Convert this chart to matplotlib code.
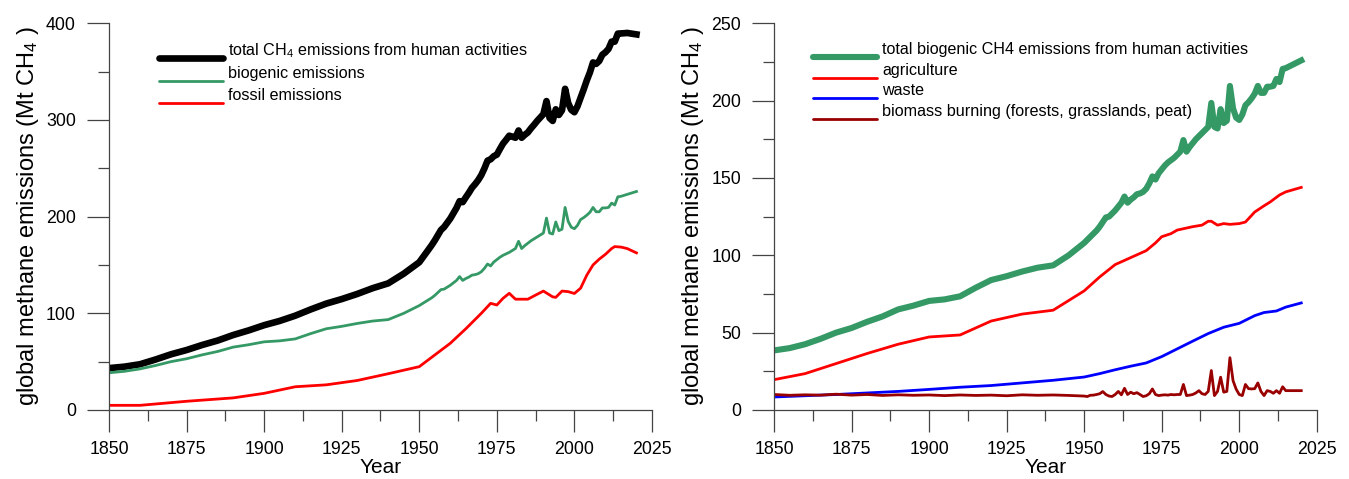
import matplotlib
matplotlib.use("Agg")
import matplotlib.pyplot as plt
from matplotlib.ticker import MultipleLocator

plt.rcParams['font.family'] = ['Liberation Sans', 'DejaVu Sans']
plt.rcParams['mathtext.default'] = 'regular'

# yearly resolution from 1950, 5-year steps before
years = list(range(1850, 1950, 5)) + list(range(1950, 2021))

total_ch4 = [43.3, 44.8, 47.3, 52.2, 57.6, 62, 67.2, 71.8, 77.5, 82.3,
             87.7, 92.1, 97.5, 104, 110, 114.7, 120, 126, 131, 141,
             152.8, 157.2, 161.6, 166, 170.5, 175.4, 180.8, 186.2, 189.2, 193.6,
             198, 203.5, 209, 216, 215, 220, 224.7, 229.9, 233.6, 237.8,
             243, 249.9, 257.9, 259.3, 262.5, 264.1, 270, 275.5, 279.5, 283.7,
             282.7, 281.6, 289.1, 281.6, 284.6, 287.1, 291.3, 295, 299, 302.5,
             306, 319.5, 302, 299, 311, 305.2, 310, 332.2, 317.4, 310.4,
             308, 314.2, 323, 331.7, 341, 349.2, 359.5, 358, 361, 367.5,
             370, 373.5, 381, 381, 389.3, 389.5, 389.7, 390, 389.5, 389,
             388.5]

biogenic = [38.5, 40, 42.5, 46, 50, 53, 57, 60.5, 65, 67.5,
            70.5, 71.5, 73.5, 79, 84, 86.5, 89.5, 92, 93.5, 100,
            108, 110, 112, 114, 116, 118.5, 121.5, 124.5, 125, 127,
            129, 131.5, 134, 138, 134, 136, 137.5, 139.5, 140, 141,
            143, 146.5, 151, 149, 153, 155.5, 158, 160, 161.5, 163,
            165, 167, 174.5, 167, 170, 172.5, 175, 177, 179, 181,
            183, 198.5, 183, 182, 194.5, 185.5, 187, 209.5, 195, 189,
            187.5, 191, 197, 199, 201.5, 204.5, 209.5, 205, 205, 209,
            209, 209.5, 214, 212, 220.5, 221, 222, 223, 224, 225,
            226]

biomass_burning = [10, 9.5, 9.8, 9.6, 10.2, 9.6, 10, 9.4, 9.8, 9.5,
                   9.7, 9.3, 9.7, 9.4, 9.6, 9.2, 9.8, 9.5, 9.7, 9.4,
                   9, 8.7, 9.5, 9.6, 10, 10.5, 11.9, 10, 9, 8.7,
                   10, 12, 9.8, 14, 10, 11.5, 10.5, 11.2, 10, 8.7,
                   9.2, 10.5, 13.6, 10, 9.3, 9.6, 9.8, 9.6, 10, 9.8,
                   10, 10, 16.5, 9.3, 9.6, 10, 11, 12.5, 10.5, 10,
                   12, 25.5, 9.3, 12, 21.2, 11.5, 12, 33.8, 19, 13.5,
                   10, 9.3, 16.5, 13.8, 13.6, 13.8, 17.5, 12, 9.3, 12.5,
                   12, 10.8, 12.5, 10.8, 15, 12.5, 12.5, 12.5, 12.5, 12.5,
                   12.5]

fossil_years = [1850, 1860, 1875, 1890, 1900, 1910, 1920, 1930, 1940, 1950,
                1960, 1965, 1970, 1973, 1975, 1977, 1979, 1981, 1985, 1987,
                1990, 1993, 1994, 1996, 1998, 2000, 2002, 2004, 2006, 2008,
                2010, 2012, 2013, 2015, 2017, 2020]
fossil = [4.8, 4.8, 9, 12.5, 17.2, 24, 26, 30.5, 37.5, 44.8,
          69, 84, 100, 110.3, 108.6, 115.5, 120.7, 114.6, 114.6, 118,
          123, 117, 116.5, 123, 122.4, 120.5, 126, 139.5, 150, 156,
          161, 167, 169, 168.5, 167, 162.5]

agri_years = [1850, 1860, 1870, 1880, 1890, 1900, 1910, 1920, 1930, 1940,
              1950, 1955, 1960, 1965, 1970, 1973, 1975, 1978, 1980, 1985,
              1988, 1990, 1991, 1993, 1995, 1997, 2000, 2002, 2005, 2008,
              2010, 2013, 2015, 2020]
agriculture = [19.6, 23.5, 30, 36.5, 42.5, 47.2, 48.5, 57.5, 62, 64.5,
               77, 86, 94, 98.5, 103, 108, 112, 114, 116.3, 118.5,
               119.5, 122, 122, 119.5, 120.5, 120, 120.5, 121.5, 128, 132,
               134.5, 139, 141, 143.9]

waste_years = [1850, 1860, 1870, 1880, 1890, 1900, 1910, 1920, 1930, 1940,
               1950, 1955, 1960, 1965, 1970, 1975, 1980, 1985, 1990, 1995,
               2000, 2005, 2008, 2010, 2012, 2015, 2020]
waste = [8.4, 9.2, 10, 11, 12, 13.3, 14.7, 15.8, 17.5, 19.2,
         21.3, 23.5, 26, 28.3, 30.4, 34.5, 39.5, 44.5, 49.4, 53.5,
         56, 61, 63, 63.5, 64, 66.5, 69.2]

GREEN = '#359966'
RED = '#ff0000'
BLUE = '#0000ff'
DARKRED = '#990000'
AXCOL = '#444444'

THICK = 4.8
THIN = 2.0


def style_axes(ax, ymax, ymajor):
    ax.set_xlim(1850, 2025)
    ax.set_ylim(0, ymax)
    for side in ('top', 'right'):
        ax.spines[side].set_visible(False)
    for side in ('left', 'bottom'):
        ax.spines[side].set_color(AXCOL)
        ax.spines[side].set_linewidth(0.9)
    ax.xaxis.set_major_locator(MultipleLocator(25))
    ax.xaxis.set_minor_locator(MultipleLocator(12.5))
    ax.yaxis.set_major_locator(MultipleLocator(ymajor))
    ax.yaxis.set_minor_locator(MultipleLocator(ymajor / 2))
    ax.tick_params(which='major', direction='out', length=15.8, width=0.9,
                   color=AXCOL, labelsize=12.8)
    ax.tick_params(which='minor', direction='out', length=7.9, width=0.9,
                   color=AXCOL)
    ax.tick_params(axis='x', which='major', pad=6.5)
    ax.tick_params(axis='y', which='major', pad=8)
    ax.set_xlabel('Year', fontsize=15, labelpad=0)
    ax.set_ylabel('global methane emissions (Mt CH$_4$ )', fontsize=17,
                  labelpad=4)


def legend_rows(ax, entries, x0, x1, xt, rows):
    # hand-placed legend: sample line with the label sitting just above it
    for (label, color, lw), y in zip(entries, rows):
        ax.plot([x0, x1], [y, y], color=color, lw=lw, transform=ax.transAxes,
                solid_capstyle='round', clip_on=False)
        ax.text(xt, y + 0.008, label, transform=ax.transAxes, fontsize=11.6,
                va='baseline', ha='left')


fig = plt.figure(figsize=(13.49, 4.79), dpi=100)
ax1 = fig.add_axes([0.0808, 0.1441, 0.4025, 0.8073])
ax2 = fig.add_axes([0.5738, 0.1441, 0.4023, 0.8073])

# left: total split into biogenic and fossil
ax1.plot(years, total_ch4, color='black', lw=THICK, solid_joinstyle='round')
ax1.plot(years, biogenic, color=GREEN, lw=THIN)
ax1.plot(fossil_years, fossil, color=RED, lw=THIN)
style_axes(ax1, 400, 100)
legend_rows(ax1,
            [('total CH$_4$ emissions from human activities', 'black', THICK),
             ('biogenic emissions', GREEN, THIN),
             ('fossil emissions', RED, THIN)],
            0.0921, 0.2099, 0.2192, [0.9095, 0.8508, 0.7947])

# right: biogenic split by source
ax2.plot(years, biogenic, color=GREEN, lw=4.4, solid_joinstyle='round')
ax2.plot(agri_years, agriculture, color=RED, lw=THIN)
ax2.plot(waste_years, waste, color=BLUE, lw=THIN)
ax2.plot(years, biomass_burning, color=DARKRED, lw=THIN)
style_axes(ax2, 250, 50)
legend_rows(ax2,
            [('total biogenic CH4 emissions from human activities', GREEN, 4.4),
             ('agriculture', RED, THIN),
             ('waste', BLUE, THIN),
             ('biomass burning (forests, grasslands, peat)', DARKRED, THIN)],
            0.0725, 0.1893, 0.1997, [0.9137, 0.8593, 0.8061, 0.7518])

fig.savefig('out.png', dpi=100)
